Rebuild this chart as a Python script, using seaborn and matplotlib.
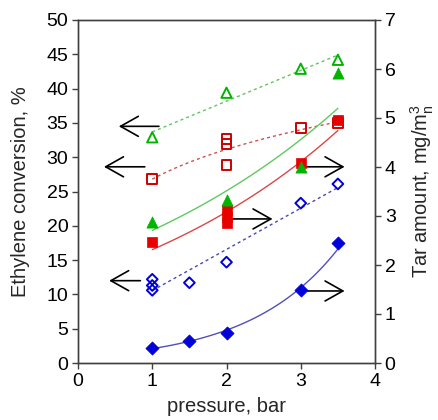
import numpy as np
import matplotlib
matplotlib.use("Agg")
import matplotlib.pyplot as plt
import seaborn as sns

# ---- data (left axis: Ethylene conversion, %) ----
tri_open_x = [1, 2, 3, 3.5]
tri_open_y = [32.9, 39.4, 42.9, 44.2]
sq_open_x = [1, 2, 2, 2, 3, 3.5]
sq_open_y = [26.8, 32.7, 31.9, 28.9, 34.2, 35.0]
dia_open_x = [1, 1, 1, 1.5, 2, 3, 3.5]
dia_open_y = [12.2, 11.3, 10.6, 11.7, 14.7, 23.3, 26.1]

# ---- data (right axis: Tar amount, mg/m3n) ----
dia_fill_x = [1, 1.5, 2, 3, 3.5]
dia_fill_y = [0.31, 0.44, 0.62, 1.50, 2.45]
sq_fill_x = [1, 2, 2, 2, 3, 3.5]
sq_fill_y = [2.46, 3.12, 2.98, 2.85, 4.09, 4.96]
tri_fill_x = [1, 2, 3, 3.5]
tri_fill_y = [2.87, 3.33, 3.99, 5.91]

x_ticks = [0, 1, 2, 3, 4]
left_ticks = [0, 5, 10, 15, 20, 25, 30, 35, 40, 45, 50]
right_ticks = [0, 1, 2, 3, 4, 5, 6, 7]

# arrows (start x, end x, y on left axis)
arrows_left = [(1.09, 0.55, 34.5), (0.90, 0.35, 28.6), (0.84, 0.42, 12.0)]
arrows_right = [(2.05, 2.62, 21.0), (3.03, 3.59, 28.6), (3.03, 3.59, 10.5)]

GREEN = "#00b400"
RED = "#e80000"
BLUE = "#0000d8"

sns.set_theme(style="white")
plt.rcParams["font.family"] = ["Liberation Sans", "DejaVu Sans"]
plt.rcParams["mathtext.default"] = "regular"

fig = plt.figure(figsize=(4.38, 4.2), dpi=100)
ax = fig.add_axes([78 / 438, 1 - 363 / 420, (375 - 78) / 438, (363 - 20) / 420])
ax2 = ax.twinx()

xs = np.linspace(1, 3.5, 60)

def powfit(x, y):
    b, a = np.polyfit(np.log(x), np.log(y), 1)
    return np.exp(a) * xs ** b

def linfit(x, y):
    b, a = np.polyfit(x, y, 1)
    return a + b * xs

def expfit(x, y):
    b, a = np.polyfit(x, np.log(y), 1)
    return np.exp(a + b * xs)

dash = (0, (2.2, 2.2))
# trend lines left
sns.lineplot(x=xs, y=linfit(tri_open_x, tri_open_y), ax=ax, color="#5cc85c",
             lw=1.0, linestyle=dash)
sns.lineplot(x=xs, y=powfit(sq_open_x, sq_open_y), ax=ax, color="#d05050",
             lw=1.0, linestyle=dash)
sns.lineplot(x=xs, y=linfit(dia_open_x, dia_open_y), ax=ax, color="#4848b0",
             lw=1.0, linestyle=dash)

# open markers
sns.scatterplot(x=tri_open_x, y=tri_open_y, ax=ax, marker="^", s=55,
                facecolor="none", edgecolor=GREEN, linewidth=1.4, zorder=5)
sns.scatterplot(x=sq_open_x, y=sq_open_y, ax=ax, marker="s", s=50,
                facecolor="none", edgecolor="#cc0000", linewidth=1.4, zorder=5)
sns.scatterplot(x=dia_open_x, y=dia_open_y, ax=ax, marker="D", s=30,
                facecolor="none", edgecolor=BLUE, linewidth=1.4, zorder=5)

# trend lines right
sns.lineplot(x=xs, y=expfit(dia_fill_x, dia_fill_y), ax=ax2, color="#5050b8", lw=1.0)
sns.lineplot(x=xs, y=expfit(sq_fill_x, sq_fill_y), ax=ax2, color="#d84848", lw=1.0)
sns.lineplot(x=xs, y=expfit(tri_fill_x, tri_fill_y), ax=ax2, color="#60c860", lw=1.0)

# filled markers
sns.scatterplot(x=dia_fill_x, y=dia_fill_y, ax=ax2, marker="D", s=45,
                color=BLUE, edgecolor=BLUE, linewidth=0.5, zorder=5)
sns.scatterplot(x=sq_fill_x, y=sq_fill_y, ax=ax2, marker="s", s=60,
                color=RED, edgecolor=RED, linewidth=0.5, zorder=5)
sns.scatterplot(x=tri_fill_x, y=tri_fill_y, ax=ax2, marker="^", s=65,
                color=GREEN, edgecolor=GREEN, linewidth=0.5, zorder=6)

ax.set_xlim(0, 4)
ax.set_ylim(0, 50)
ax2.set_ylim(0, 7)
ax.set_xticks(x_ticks)
ax.set_yticks(left_ticks)
ax2.set_yticks(right_ticks)

for a in (ax, ax2):
    a.tick_params(direction="out", length=4, width=1, colors="#404040",
                  labelsize=14, labelcolor="black", pad=3)
    for sp in a.spines.values():
        sp.set_color("#404040")
        sp.set_linewidth(1)
ax.tick_params(axis="x", bottom=True)
ax.tick_params(axis="y", left=True)
ax2.tick_params(axis="y", right=True)

ax.set_xlabel("pressure, bar", fontsize=14.5, labelpad=5)
ax.set_ylabel("Ethylene conversion, %", fontsize=14.5, labelpad=12)
ax2.set_ylabel(r"Tar amount, mg/m$^{3}_{n}$", fontsize=14.5, labelpad=9)

aprops = dict(arrowstyle="->,head_length=0.8,head_width=0.45", color="black",
              lw=1.2, mutation_scale=16, shrinkA=0, shrinkB=0)
for x0, x1, y in arrows_left + arrows_right:
    ax.annotate("", xy=(x1, y), xytext=(x0, y), arrowprops=aprops, zorder=7)

fig.savefig("out.png", dpi=100)
